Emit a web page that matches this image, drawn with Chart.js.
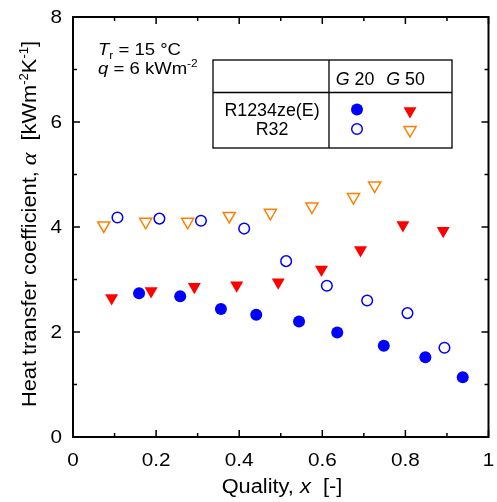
<!DOCTYPE html>
<html>
<head>
<meta charset="utf-8">
<script src="https://cdn.jsdelivr.net/npm/chart.js@4"></script>
<style>
  html, body { margin: 0; padding: 0; background: #fff; }
  #wrap { width: 497px; height: 502px; }
</style>
</head>
<body>
<div id="wrap"><canvas id="chart" width="497" height="502"></canvas></div>
<script>
// values
const r1234zeG20X = [0.159, 0.258, 0.356, 0.441, 0.544, 0.636, 0.748, 0.848, 0.938];
const r1234zeG20Y = [2.74, 2.68, 2.44, 2.33, 2.20, 1.99, 1.74, 1.52, 1.14];
const r32G20X = [0.107, 0.208, 0.308, 0.412, 0.513, 0.611, 0.708, 0.805, 0.894];
const r32G20Y = [4.18, 4.16, 4.12, 3.97, 3.35, 2.88, 2.60, 2.36, 1.70];
const r1234zeG50X = [0.093, 0.188, 0.292, 0.394, 0.494, 0.598, 0.692, 0.794, 0.891];
const r1234zeG50Y = [2.65, 2.78, 2.86, 2.89, 2.95, 3.19, 3.56, 4.04, 3.93];
const r32G50X = [0.074, 0.175, 0.276, 0.376, 0.475, 0.575, 0.675, 0.726];
const r32G50Y = [4.03, 4.10, 4.10, 4.21, 4.27, 4.39, 4.57, 4.79];

const xTickValues = [0, 0.2, 0.4, 0.6, 0.8, 1];
const xTickLabels = ['0', '0.2', '0.4', '0.6', '0.8', '1'];
const yTickValues = [0, 2, 4, 6, 8];
const yTickLabels = ['0', '2', '4', '6', '8'];

const BLUE = '#0000ff';
const RED = '#ff0000';
const ORANGE = '#ff8000';
const SANS = '"Liberation Sans", Arial, sans-serif';
const SERIF = '"Liberation Serif", "Times New Roman", serif';
const STRETCH = 1.09; // the original font runs a bit wider than Liberation Sans

const pts = (xs, ys) => xs.map((x, i) => ({ x: x, y: ys[i] }));

// draw a run of text pieces with different fonts / offsets
function richText(ctx, parts, x, y, align, sx) {
  sx = sx || STRETCH;
  let w = 0;
  parts.forEach(p => { ctx.font = p.font; w += ctx.measureText(p.t).width; });
  ctx.save();
  ctx.translate(x, y);
  ctx.scale(sx, 1);
  let cx = align === 'center' ? -w / 2 : align === 'right' ? -w : 0;
  ctx.textBaseline = 'alphabetic';
  ctx.textAlign = 'left';
  parts.forEach(p => {
    ctx.font = p.font;
    ctx.fillText(p.t, cx, p.dy || 0);
    cx += ctx.measureText(p.t).width;
  });
  ctx.restore();
}

function marker(ctx, style, x, y) {
  ctx.save();
  ctx.lineWidth = 1.5;
  if (style === 'fc') {
    ctx.fillStyle = BLUE;
    ctx.beginPath(); ctx.arc(x, y, 6, 0, Math.PI * 2); ctx.fill();
  } else if (style === 'oc') {
    ctx.strokeStyle = BLUE;
    ctx.beginPath(); ctx.arc(x, y, 5.3, 0, Math.PI * 2); ctx.stroke();
  } else {
    const r = style === 'ft' ? 7.5 : 7;
    ctx.beginPath();
    for (let k = 0; k < 3; k++) {
      const a = Math.PI / 2 + k * 2 * Math.PI / 3;
      const px = x + Math.cos(a) * r, py = y + Math.sin(a) * r;
      k ? ctx.lineTo(px, py) : ctx.moveTo(px, py);
    }
    ctx.closePath();
    if (style === 'ft') { ctx.fillStyle = RED; ctx.fill(); }
    else { ctx.strokeStyle = ORANGE; ctx.stroke(); }
  }
  ctx.restore();
}

const decor = {
  id: 'decor',
  afterDraw(chart) {
    const ctx = chart.ctx;
    const a = chart.chartArea;
    const xs = chart.scales.x, ys = chart.scales.y;
    ctx.save();
    ctx.strokeStyle = '#000';
    ctx.fillStyle = '#000';

    // inward ticks on all four sides
    ctx.lineWidth = 1.5;
    ctx.beginPath();
    for (let i = 0; i <= 10; i++) {
      const px = xs.getPixelForValue(i / 10);
      const len = i % 2 === 0 ? 7 : 4;
      ctx.moveTo(px, a.bottom); ctx.lineTo(px, a.bottom - len);
      ctx.moveTo(px, a.top); ctx.lineTo(px, a.top + len);
    }
    for (let v = 0; v <= 8; v++) {
      const py = ys.getPixelForValue(v);
      const len = v % 2 === 0 ? 7 : 4;
      ctx.moveTo(a.left, py); ctx.lineTo(a.left + len, py);
      ctx.moveTo(a.right, py); ctx.lineTo(a.right - len, py);
    }
    ctx.stroke();

    // frame
    ctx.lineWidth = 2;
    ctx.strokeRect(a.left, a.top, a.right - a.left, a.bottom - a.top);

    // tick labels
    const tf = '19px ' + SANS;
    xTickValues.forEach((v, i) => {
      richText(ctx, [{ t: xTickLabels[i], font: tf }], xs.getPixelForValue(v), 466, 'center');
    });
    yTickValues.forEach((v, i) => {
      richText(ctx, [{ t: yTickLabels[i], font: tf }], 62, ys.getPixelForValue(v) + 6, 'right');
    });

    // axis titles
    const f = '20px ' + SANS;
    richText(ctx, [
      { t: 'Quality, ', font: f },
      { t: 'x', font: 'italic ' + f },
      { t: '  [-]', font: f }
    ], 282, 493, 'center');

    ctx.save();
    ctx.translate(36, 224);
    ctx.rotate(-Math.PI / 2);
    richText(ctx, [
      { t: 'Heat transfer coefficient, ', font: f },
      { t: '\u03b1', font: 'italic 22px ' + SERIF },
      { t: '  [kWm', font: f },
      { t: '-2', font: '12px ' + SANS, dy: -8 },
      { t: 'K', font: f },
      { t: '-1', font: '12px ' + SANS, dy: -8 },
      { t: ']', font: f }
    ], 0, 0, 'center');
    ctx.restore();

    // conditions
    const g = '17px ' + SANS;
    richText(ctx, [
      { t: 'T', font: 'italic ' + g },
      { t: 'r', font: '11px ' + SANS, dy: 4 },
      { t: ' = 15 \u00b0C', font: g }
    ], 98, 55, 'left');
    richText(ctx, [
      { t: 'q', font: 'italic ' + g },
      { t: ' = 6 kWm', font: g },
      { t: '-2', font: '11px ' + SANS, dy: -7 }
    ], 98, 74, 'left');

    // legend table
    ctx.lineWidth = 1.3;
    ctx.fillStyle = '#fff';
    ctx.fillRect(213, 60, 239, 88);
    ctx.strokeRect(213, 60, 239, 88);
    ctx.beginPath();
    ctx.moveTo(213, 92.5); ctx.lineTo(452, 92.5);
    ctx.moveTo(329, 60); ctx.lineTo(329, 148);
    ctx.stroke();
    ctx.fillStyle = '#000';
    const lg = '17.5px ' + SANS;
    richText(ctx, [{ t: 'G', font: 'italic ' + lg }, { t: ' 20', font: lg }], 355, 84.5, 'center', 1.02);
    richText(ctx, [{ t: 'G', font: 'italic ' + lg }, { t: ' 50', font: lg }], 405.5, 84.5, 'center', 1.02);
    richText(ctx, [{ t: 'R1234ze(E)', font: lg }], 272, 116, 'center', 1.02);
    richText(ctx, [{ t: 'R32', font: lg }], 272, 135, 'center', 1.02);
    marker(ctx, 'fc', 357, 109.5);
    marker(ctx, 'ft', 410, 111);
    marker(ctx, 'oc', 357, 129);
    marker(ctx, 'ot', 410, 130);

    ctx.restore();
  }
};

new Chart(document.getElementById('chart'), {
  type: 'scatter',
  data: {
    datasets: [
      {
        label: 'R1234ze(E) G 20',
        data: pts(r1234zeG20X, r1234zeG20Y),
        pointStyle: 'circle',
        pointRadius: 6,
        backgroundColor: BLUE,
        borderColor: BLUE,
        borderWidth: 0
      },
      {
        label: 'R32 G 20',
        data: pts(r32G20X, r32G20Y),
        pointStyle: 'circle',
        pointRadius: 5.3,
        backgroundColor: 'rgba(0,0,0,0)',
        borderColor: BLUE,
        borderWidth: 1.5
      },
      {
        label: 'R1234ze(E) G 50',
        data: pts(r1234zeG50X, r1234zeG50Y),
        pointStyle: 'triangle',
        rotation: 180,
        pointRadius: 7.5,
        backgroundColor: RED,
        borderColor: RED,
        borderWidth: 0
      },
      {
        label: 'R32 G 50',
        data: pts(r32G50X, r32G50Y),
        pointStyle: 'triangle',
        rotation: 180,
        pointRadius: 7,
        backgroundColor: 'rgba(0,0,0,0)',
        borderColor: ORANGE,
        borderWidth: 1.5
      }
    ]
  },
  options: {
    responsive: false,
    animation: false,
    events: [],
    layout: { padding: { left: 0, top: 17, right: 8, bottom: 0 } },
    plugins: { legend: { display: false }, tooltip: { enabled: false } },
    scales: {
      x: {
        type: 'linear', min: 0, max: 1,
        border: { display: false },
        grid: { display: false, drawTicks: false },
        ticks: { display: false, stepSize: 0.2 },
        afterFit(s) { s.height = 65; s.paddingLeft = 0; s.paddingRight = 0; }
      },
      y: {
        type: 'linear', min: 0, max: 8,
        border: { display: false },
        grid: { display: false, drawTicks: false },
        ticks: { display: false, stepSize: 2 },
        afterFit(s) { s.width = 73; s.paddingTop = 0; s.paddingBottom = 0; }
      }
    }
  },
  plugins: [decor]
});
</script>
</body>
</html>
